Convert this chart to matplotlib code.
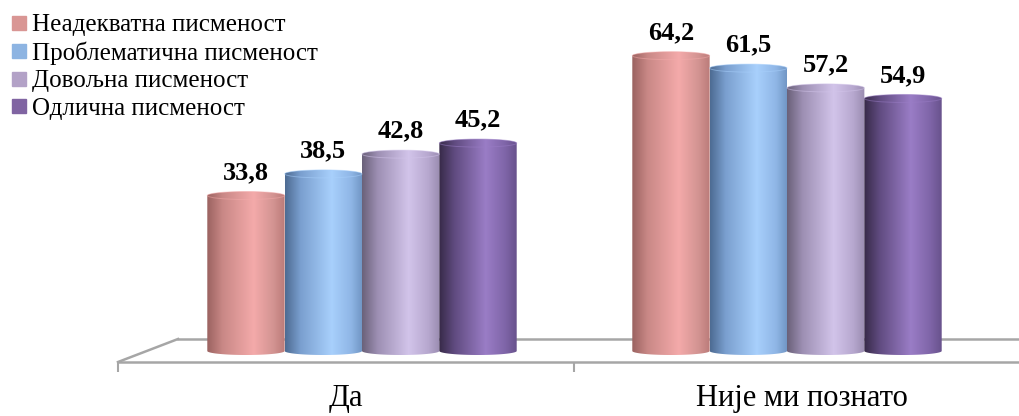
import numpy as np
import matplotlib
matplotlib.use('Agg')
import matplotlib.pyplot as plt
from matplotlib.colors import LinearSegmentedColormap
from matplotlib.path import Path
from matplotlib.patches import PathPatch, Ellipse
from matplotlib.lines import Line2D

# data
categories = ['Да', 'Није ми познато']
series_names = ['Неадекватна писменост', 'Проблематична писменост',
                'Довољна писменост', 'Одлична писменост']
neadekvatna = [33.8, 64.2]
problematicna = [38.5, 61.5]
dovoljna = [42.8, 57.2]
odlicna = [45.2, 54.9]
series_values = [neadekvatna, problematicna, dovoljna, odlicna]

legend_colors = ['#D99694', '#8DB4E2', '#B3A2C7', '#8064A2']
# dark left edge, mid, highlight, right side, right edge
shades = [
    ['#9a6260', '#c98886', '#f4aaaa', '#d39492', '#bb7b79'],
    ['#4d6b92', '#7a9fcf', '#a8d0fc', '#8fb6e6', '#6f93c2'],
    ['#6a6179', '#9d8fb3', '#d2c4ea', '#b7a8cf', '#9a8cb0'],
    ['#372a48', '#604b80', '#9a7dc6', '#7f65a8', '#68528c'],
]
stops = [0.0, 0.2, 0.6, 0.85, 1.0]

W, H = 1019, 416
plt.rcParams['font.family'] = ['Liberation Serif', 'DejaVu Serif']
fig = plt.figure(figsize=(W / 100, H / 100), dpi=100)

# front edge of the floor with the category labels
axf = fig.add_axes([118 / W, (H - 362) / H, 912 / W, 0.001])
axf.set_xlim(-0.5, 1.5)
axf.set_xticks([0, 1])
axf.set_xticklabels(categories, fontsize=22)
axf.set_xticks([-0.5, 0.5, 1.5], minor=True)
axf.tick_params(axis='x', which='major', length=0, pad=16)
axf.tick_params(axis='x', which='minor', length=7, width=1.5, color='#a6a6a6', direction='out')
axf.set_yticks([])
for s in ['top', 'left', 'right']:
    axf.spines[s].set_visible(False)
axf.spines['bottom'].set_color('#a6a6a6')
axf.spines['bottom'].set_linewidth(1.8)
axf.patch.set_visible(False)

# back edge and left side of the floor
fig.add_artist(Line2D([178 / W, 1.0], [(H - 339) / H] * 2, transform=fig.transFigure,
                      color='#a6a6a6', lw=1.8, zorder=-1))
fig.add_artist(Line2D([118 / W, 178 / W], [(H - 362) / H, (H - 339) / H],
                      transform=fig.transFigure, color='#a6a6a6', lw=1.8, zorder=-1))

ax = fig.add_axes([0, 0, 1, 1])
ax.patch.set_visible(False)
ax.axis('off')

bar_w = 0.182
ry = 0.87


def cylinder(ax, xc, top, cols):
    x0, x1 = xc - bar_w / 2, xc + bar_w / 2
    t1 = np.linspace(np.pi, 2 * np.pi, 60)
    t2 = np.linspace(0, np.pi, 60)
    low = np.column_stack([xc + bar_w / 2 * np.cos(t1), ry * np.sin(t1)])
    up = np.column_stack([xc + bar_w / 2 * np.cos(t2), top + ry * np.sin(t2)])
    verts = np.vstack([low, up, low[:1]])
    patch = PathPatch(Path(verts, closed=True), fc='none', ec='none')
    ax.add_patch(patch)
    cmap = LinearSegmentedColormap.from_list('cyl', list(zip(stops, cols)))
    im = ax.imshow(np.linspace(0, 1, 256)[None, :], cmap=cmap,
                   extent=[x0, x1, -ry, top + ry], aspect='auto',
                   origin='lower', interpolation='bilinear')
    im.set_clip_path(patch)
    ax.add_patch(Ellipse((xc, top), bar_w, 2 * ry, fc='none',
                         ec=cols[2], lw=0.7, alpha=0.5))


for j, vals in enumerate(series_values):
    for i, v in enumerate(vals):
        xc = i + (j - 1.5) * bar_w
        cylinder(ax, xc, v, shades[j])
        ax.annotate(f'{v:.1f}'.replace('.', ','), (xc, v), xytext=(0, 16.5),
                    textcoords='offset points', ha='center', va='center',
                    fontsize=19, fontweight='bold')

ax.set_xlim(-362 / 425, (W - 362) / 425)
ax.set_ylim((351 - H) / 4.6, 351 / 4.6)

handles = [Line2D([], [], ls='none', marker='s', markersize=9.5, color=c) for c in legend_colors]
fig.legend(handles, series_names, loc='upper left', bbox_to_anchor=(1 / W, 1 - 4 / H),
           frameon=False, fontsize=18, handlelength=0.6, handletextpad=0.24,
           labelspacing=0.2, borderaxespad=0.0)

fig.savefig('out.png', dpi=100)
